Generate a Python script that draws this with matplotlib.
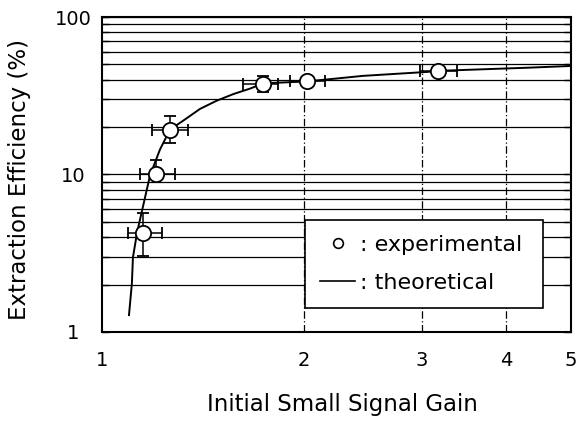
import matplotlib
matplotlib.use("Agg")
import matplotlib.pyplot as plt
from matplotlib.lines import Line2D
import numpy as np

plt.rcParams['font.family'] = ['DejaVu Sans']

# Experimental points (initial small signal gain, extraction efficiency %)
exp_x = [1.151, 1.204, 1.263, 1.739, 2.019, 3.17]
exp_y = [4.23, 10.0, 19.2, 37.5, 39.0, 45.5]
exp_x_lo = [1.093, 1.139, 1.187, 1.622, 1.905, 2.98]
exp_x_hi = [1.229, 1.285, 1.343, 1.830, 2.148, 3.38]
exp_y_lo = [3.03, 9.3, 15.9, 33.4, 37.0, 43.5]
exp_y_hi = [5.66, 12.4, 23.6, 42.3, 41.0, 47.5]

# Theoretical curve
theo_x = [1.097, 1.108, 1.112, 1.128, 1.146, 1.179, 1.220, 1.263, 1.322, 1.400,
          1.482, 1.569, 1.662, 1.739, 2.02, 2.148, 2.45, 3.05, 3.17, 4.34, 5.0]
theo_y = [1.28, 2.04, 2.98, 4.29, 5.77, 9.85, 14.4, 19.3, 22.0, 26.1,
          29.4, 32.4, 35.1, 37.9, 39.0, 40.0, 42.3, 44.8, 45.5, 47.7, 48.9]

x_ticks = [1, 2, 3, 4, 5]
x_ticklabels = ['1', '2', '3', '4', '5']
y_ticks = [1, 10, 100]
y_ticklabels = ['1', '10', '100']

fig = plt.figure(figsize=(5.76, 4.22), dpi=100)
ax = fig.add_axes([0.1771, 0.2133, 0.8142, 0.7464])
ax.set_xscale('log')
ax.set_yscale('log')
ax.set_xlim(1, 5)
ax.set_ylim(1, 100)

# grid: horizontal solid at all decades/minor, vertical dash-dot at 2,3,4
ax.yaxis.grid(True, which='both', color='black', linewidth=0.9, zorder=1)
for xv in x_ticks[1:-1]:
    ax.axvline(xv, color='black', linewidth=0.9, linestyle=(0, (6, 2, 1, 2)), zorder=1)

ax.plot(theo_x, theo_y, color='black', linewidth=1.4, zorder=3)

ex = np.array(exp_x); ey = np.array(exp_y)
xerr = [ex - np.array(exp_x_lo), np.array(exp_x_hi) - ex]
yerr = [ey - np.array(exp_y_lo), np.array(exp_y_hi) - ey]
ax.errorbar(ex, ey, xerr=xerr, yerr=yerr, fmt='o', ms=11, mfc='white', mec='black',
            mew=1.3, ecolor='black', elinewidth=1.1, capsize=4, capthick=1.1, zorder=4)

ax.set_xticks(x_ticks)
ax.set_xticklabels(x_ticklabels)
ax.xaxis.set_minor_locator(matplotlib.ticker.NullLocator())
ax.set_yticks(y_ticks)
ax.set_yticklabels(y_ticklabels)
ax.yaxis.set_minor_locator(matplotlib.ticker.LogLocator(base=10, subs=np.arange(2, 10)))
ax.yaxis.set_minor_formatter(matplotlib.ticker.NullFormatter())
ax.tick_params(axis='x', which='both', length=0, pad=14, labelsize=14)
ax.tick_params(axis='y', which='both', direction='in', left=True, right=True,
               length=5, width=1, pad=21, labelsize=14)
for lab in ax.get_yticklabels():
    lab.set_horizontalalignment('center')

for s in ax.spines.values():
    s.set_linewidth(1.5)
    s.set_color('black')

ax.set_xlabel('Initial Small Signal Gain', fontsize=16.5)
ax.set_ylabel('Extraction Efficiency (%)', fontsize=16.5)
ax.xaxis.set_label_coords(0.513, -0.195)
ax.yaxis.set_label_coords(-0.152, 0.485)

handles = [Line2D([], [], marker='o', linestyle='none', ms=7, mfc='white', mec='black', mew=1.2),
           Line2D([], [], color='black', linewidth=1.2)]
leg = ax.legend(handles, [': experimental', ': theoretical'], loc='lower left',
                bbox_to_anchor=(0.433, 0.076, 0.507, 0.276), mode='expand',
                borderaxespad=0, fontsize=16, frameon=True, fancybox=False, framealpha=1,
                edgecolor='black', handlelength=1.58, handletextpad=0.2,
                labelspacing=0.82, borderpad=0.68)
leg.get_frame().set_linewidth(1.2)
leg.set_zorder(10)

fig.savefig('out.png', dpi=100)
